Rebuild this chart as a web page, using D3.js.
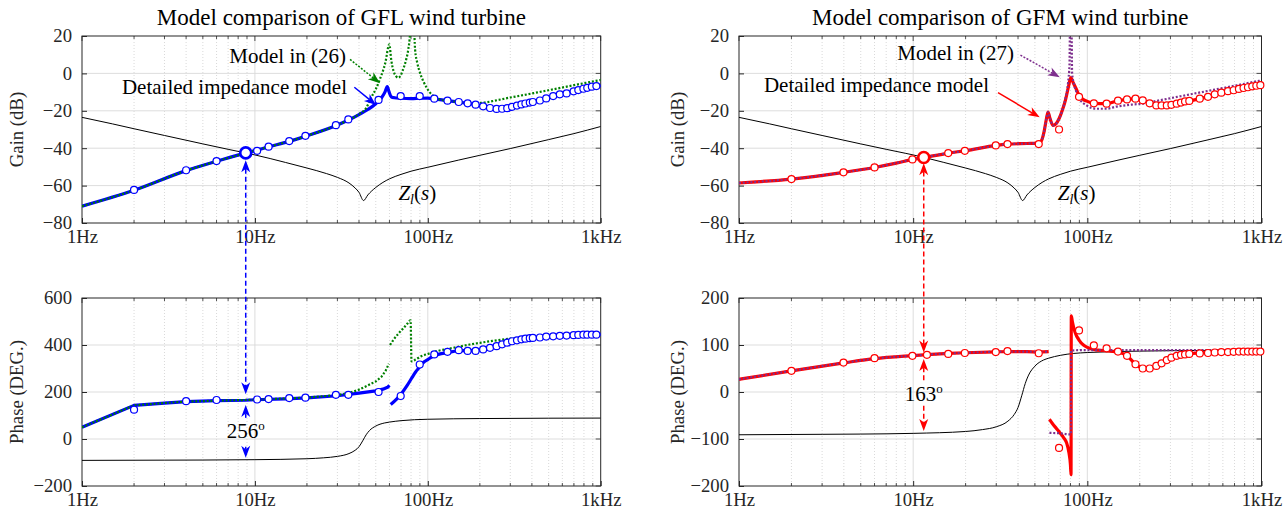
<!DOCTYPE html>
<html><head><meta charset="utf-8">
<script src="https://cdn.jsdelivr.net/npm/d3@7"></script>
<style>
body{margin:0;background:#fff}
svg{display:block}
svg text{font-family:"Liberation Serif","Times New Roman",Times,"DejaVu Serif",serif;fill:#262626}
</style></head><body>
<svg id="c" width="1287" height="510"></svg>
<script>
// ---------------- DATA ----------------
const freqTicks = [1, 10, 100, 1000];
const freqTickLabels = ["1Hz", "10Hz", "100Hz", "1kHz"];
const gainTicks = [20, 0, -20, -40, -60, -80];
const gflPhaseTicks = [600, 400, 200, 0, -200];
const gfmPhaseTicks = [200, 100, 0, -100, -200];
const titles = ["Model comparison of GFL wind turbine", "Model comparison of GFM wind turbine"];

// line impedance Z_l(s): [Hz, value]
const zlGain = [[1,-23.5],[1.5,-27],[2,-29.6],[3,-33.2],[5,-37.7],[7,-40.6],[9,-42.7],[10,-43.6],[15,-47.6],[20,-50.6],[26,-53.6],[30,-55.6],[35,-58.6],[38,-61.3],[40,-63.6],[42.5,-68],[45,-65],[50,-61],[55,-58.3],[60,-56.4],[70,-54],[80,-52.3],[100,-50.2],[150,-46.4],[200,-43.8],[300,-40.2],[500,-35.4],[700,-32.2],[1000,-28.4]];
const zlPhase = [[1,-91],[3,-90],[5,-89.5],[10,-88],[20,-84],[25,-80],[30,-74],[35,-62],[38,-48],[40,-33],[42,-8],[44,18],[46,36],[50,55],[56,68],[60,72],[70,78],[100,84],[200,87],[500,88.5],[1000,89]];

// GFL: detailed impedance model (blue), model in (26) (green), measured points (circles)
const gflDetGain = [[1,-71],[2,-62.5],[4,-52],[6,-47],[8.85,-42.5],[10,-41.3],[12,-39.3],[16,-36.2],[20,-33.4],[30,-27.6],[35,-24.8],[40,-22],[45,-19.3],[50,-16.2],[54,-13],[56.5,-10],[58.3,-7],[59.5,-9.5],[61.5,-12.5],[64,-13],[70,-13.3],[80,-13.5],[90,-13.3],[100,-13.2],[110,-13.6],[130,-14.6],[150,-15.3],[170,-16],[190,-16.7],[210,-17.6],[230,-18.4],[260,-18.9],[300,-18.2],[350,-16.6],[400,-15.4],[450,-14.4],[500,-13],[600,-11.2],[700,-9.6],[800,-8.2],[900,-7.2],[1000,-6.4]];
const gflModelGain = [[1,-71],[2,-62.5],[4,-52],[6,-47],[10,-41.3],[20,-33.4],[30,-27.6],[35,-24.8],[40,-21.8],[44,-18.5],[47.3,-12.5],[50,-8.5],[52.8,-3.2],[56.8,5.7],[59.9,15.6],[61.5,7],[63.5,1],[65.5,-1.5],[67.4,-2.3],[69.5,-1.3],[72,2.2],[75,7.5],[77,12.5],[79,22],[80.5,40],[82,40],[84.4,12.9],[87,5.5],[90.1,0.4],[94,-4],[98.5,-7.6],[103,-10.3],[107.6,-12],[117,-13.9],[130,-14.6],[150,-15.3],[180,-16],[200,-15.8],[300,-12.9],[500,-9],[700,-6.3],[1000,-3.5]];
const gflPtsGain = [[2,-62.3],[4,-51.8],[6,-46.9],[10.3,-41.4],[12,-39.2],[15.8,-36.2],[19.6,-33.4],[29.4,-27.7],[34.7,-24.6],[51.9,-14.2],[69.7,-12.1],[89.8,-12.1],[109,-13.5],[130,-14.6],[151,-15.3],[170,-16],[189,-16.7],[209,-17.6],[229,-18.5],[250,-19],[269,-18.9],[288,-18.6],[307,-17.9],[328,-17.2],[348,-16.6],[367,-16.1],[389,-15.6],[405,-15.3],[445,-14.5],[484,-13.4],[531,-12.1],[580,-11.2],[635,-10.7],[697,-9.6],[742,-8.9],[794,-8.2],[836,-7.7],[889,-7.1],[944,-6.8]];
const gflCross = [[8.85,-42.5]];
const gflDetPhaseA = [[1,50],[2,143],[3,153],[4,159],[6,163],[8.85,165],[10,167],[15,171],[20,175],[30,184],[40,195],[50,205],[55,212],[58.5,220],[60,228]];
const gflDetPhaseB = [[61,147],[66,170],[71,197],[76,228],[81,261],[85,285],[89,303],[95,328],[100,338],[107,352],[115,360],[130,368],[150,375],[170,376],[190,377],[210,381],[230,388],[250,395],[270,403],[290,410],[310,416],[350,424],[400,429],[450,432],[500,436],[600,439],[700,442],[800,444],[1000,445]];
const gflModelPhaseA = [[1,50],[2,143],[3,153],[4,159],[6,163],[10,167],[20,176],[30,187],[35,196],[40,210],[45,228],[50,245],[54,265],[57,290],[59.5,320]];
const gflModelPhaseB = [[60.5,400],[63,420],[67,445],[72,470],[76,490],[79.5,505],[80.5,330],[85,338],[91.5,352],[100,362],[113,374],[134,385],[175,402],[230,416],[300,427],[400,432],[600,440],[1000,445]];
const gflPtsPhase = [[2,125],[4,161],[6,166],[10.3,168],[12,170],[15.8,174],[19.6,176],[29.4,188],[34.7,188],[51.9,200],[69.7,183],[89.8,317],[109,360],[130,371],[151,378],[170,375],[189,375],[209,381],[229,388],[250,395],[269,403],[288,410],[307,416],[328,420],[348,424],[367,427],[389,429],[405,430],[445,432],[484,436],[531,437],[580,439],[635,440],[697,442],[742,443],[794,444],[836,444],[889,444],[944,444]];

// GFM: detailed impedance model (red), model in (27) (purple), measured points
const gfmDetGain = [[1,-58.6],[2,-56.5],[4,-52.9],[6,-50.3],[8,-48],[10,-46],[11.5,-45],[16,-42.6],[20,-41.3],[30,-38.5],[35,-37.8],[45,-37.5],[52,-37.3],[54.5,-36],[56.5,-31],[58.3,-24],[59.5,-20.7],[61,-24],[63.6,-27.8],[66,-27],[69,-24],[72,-19.5],[75,-14],[78,-7],[80.3,-2.3],[83,-5],[86.5,-8.5],[90,-12],[95,-14],[99,-14.8],[109,-16],[129,-16.2],[150,-14.6],[169,-13.9],[189,-13.5],[208,-14.4],[228,-16],[249,-17.1],[267,-17.1],[286,-17.1],[304,-16.8],[326,-16.2],[345,-15.6],[364,-15],[385,-14.7],[442,-13.5],[493,-12.5],[539,-11.2],[588,-10.3],[642,-9.5],[692,-9],[742,-8.3],[789,-7.8],[836,-7.4],[885,-6.9],[934,-6.6],[1000,-6.3]];
const gfmModelGain = [[1,-58.6],[2,-56.5],[4,-52.9],[6,-50.3],[10,-46],[16,-42.6],[20,-41.3],[30,-38.5],[35,-37.8],[45,-37.5],[52,-37.3],[54.5,-36],[56.5,-31],[58.3,-24],[59.5,-20.7],[61,-24],[63.6,-27.8],[66,-27],[69,-24],[72,-19.5],[75,-13],[77.5,-5],[79,5],[79.8,40],[80.8,40],[81.8,0],[84,-6],[87,-10.5],[90,-13.5],[99,-17.1],[113,-18.9],[129,-18.9],[146,-17.8],[180,-16.7],[214,-16],[230,-15.4],[400,-11],[700,-6.6],[1000,-3.7]];
const gfmPtsGain = [[2,-56.5],[3.98,-52.9],[6,-50.3],[9.9,-46],[15.9,-42.6],[19.8,-41.4],[29.8,-38.5],[34.8,-37.8],[52.6,-37.8],[68.8,-30],[89.6,-12.5],[109,-16],[129,-16.2],[150,-14.6],[169,-13.9],[189,-13.5],[208,-14.4],[228,-16],[249,-17.1],[267,-17.1],[286,-17.1],[304,-16.8],[326,-16.2],[345,-15.6],[364,-15],[385,-14.7],[442,-13.5],[493,-12.5],[539,-11.2],[588,-10.3],[642,-9.5],[692,-9],[742,-8.3],[789,-7.8],[836,-7.4],[885,-6.9],[934,-6.6],[985,-6.3]];
const gfmCross = [[11.5,-45]];
const gfmDetPhaseA = [[1,27],[2,45],[4,62],[6,71],[10,77.5],[12,79.5],[16,82],[20,83.5],[30,85.5],[35,86],[45,86],[52.7,85],[60,86]];
const gfmDetPhaseB = [[60.6,-58],[63,-67],[66.6,-78],[70,-88],[73,-97],[76,-108],[78.5,-130],[80,-155],[80.6,-176],[80.9,162],[82,150],[85,127],[89.8,110],[95,100],[100,95],[115,89],[135,87],[150,85],[169,77],[188,60],[207,51],[229,50],[250,55.5],[268,61],[289,68],[307,73],[328,77],[352,80],[400,82],[497,84],[700,86],[1000,86]];
const gfmModelPhaseA = [[1,27],[2,45],[4,62],[6,71],[10,77.5],[12,79.5],[16,82],[20,83.5],[30,85.5],[35,86],[45,86],[52.7,85],[60,86]];
const gfmModelPhaseB = [[60.6,-87],[70,-88],[78.5,-90],[80.5,-90],[80.7,88],[90,89],[1000,89]];
const gfmPtsPhase = [[2,45],[3.98,62.6],[6,72],[9.9,77],[12,79],[15.9,81],[19.8,83],[29.8,85],[34.8,87],[52.6,82.5],[68.8,-119],[89.6,131],[109,99],[129,93],[150,86],[169,77],[189,59],[208,50],[228,50],[249,55.5],[267,61],[286,68],[304,73],[326,77],[345,79],[364,80],[385,81],[442,82],[493,83],[539,84],[588,85],[642,85],[692,85.5],[742,86],[789,86],[836,86],[885,86],[934,86],[985,86]];

// ---------------- LAYOUT ----------------
const cols = {L:{x0:82, x1:600.7, title:titles[0]}, R:{x0:739, x1:1261.5, title:titles[1]}};
const rows = {T:{y0:36, y1:223}, B:{y0:298, y1:486}};
const SERIF = '"Liberation Serif","Times New Roman",Times,"DejaVu Serif",serif';
const FONT_TICK = 18.7, FONT_LAB = 18.7, FONT_ANN = 21, FONT_TITLE = 23;
const C = {blue:"#0000ff", green:"#008000", red:"#ff0000", purple:"#7e2f8e", black:"#000", axis:"#262626"};

const svg = d3.select("#c");
const defs = svg.append("defs");
const minus = d => d < 0 ? "\u2212" + (-d) : String(d);

function makePanel(id, col, row, yDom, yTicks, ylabel, labelX){
  const c = cols[col], r = rows[row];
  const x = d3.scaleLog().domain([1,1000]).range([c.x0, c.x1]);
  const y = d3.scaleLinear().domain(yDom).range([r.y1, r.y0]);
  const g = svg.append("g");
  defs.append("clipPath").attr("id","clip"+id).append("rect")
    .attr("x",c.x0).attr("y",r.y0).attr("width",c.x1-c.x0).attr("height",r.y1-r.y0);
  const minor = [];
  [1,10,100].forEach(d => { for(let k=2;k<=9;k++) minor.push(d*k); });
  g.append("g").selectAll("line").data(minor).join("line")
    .attr("x1",d=>x(d)).attr("x2",d=>x(d)).attr("y1",r.y0).attr("y2",r.y1)
    .attr("stroke","#cfcfcf").attr("stroke-width",0.8).attr("stroke-dasharray","1,2");
  g.append("g").selectAll("line").data(freqTicks.slice(1,-1)).join("line")
    .attr("x1",d=>x(d)).attr("x2",d=>x(d)).attr("y1",r.y0).attr("y2",r.y1)
    .attr("stroke","#d9d9d9").attr("stroke-width",0.9);
  g.append("g").selectAll("line").data(yTicks.filter(t=>t!==yDom[0]&&t!==yDom[1])).join("line")
    .attr("x1",c.x0).attr("x2",c.x1).attr("y1",d=>y(d)).attr("y2",d=>y(d))
    .attr("stroke","#d9d9d9").attr("stroke-width",0.9);
  const ax = g.append("g").attr("transform",`translate(0,${r.y1})`)
    .call(d3.axisBottom(x).tickValues(freqTicks).tickFormat((d,i)=>freqTickLabels[i]).tickSizeInner(-5).tickSizeOuter(0).tickPadding(7));
  const ay = g.append("g").attr("transform",`translate(${c.x0},0)`)
    .call(d3.axisLeft(y).tickValues(yTicks).tickFormat(minus).tickSizeInner(-5).tickSizeOuter(0).tickPadding(10));
  [ax,ay].forEach(a=>{
    a.attr("font-family",null).attr("font-size",null);
    a.select(".domain").remove();
    a.selectAll("line").attr("stroke",C.axis);
    a.selectAll("text").attr("font-size",FONT_TICK).attr("fill",C.axis).style("font-family",SERIF);
  });
  const tk = g.append("g").attr("stroke",C.axis).attr("stroke-width",0.8);
  yTicks.forEach(t=>tk.append("line").attr("x1",c.x1).attr("x2",c.x1-5).attr("y1",y(t)).attr("y2",y(t)));
  freqTicks.forEach(t=>tk.append("line").attr("x1",x(t)).attr("x2",x(t)).attr("y1",r.y0).attr("y2",r.y0+5));
  minor.forEach(t=>{
    tk.append("line").attr("x1",x(t)).attr("x2",x(t)).attr("y1",r.y1).attr("y2",r.y1-3);
    tk.append("line").attr("x1",x(t)).attr("x2",x(t)).attr("y1",r.y0).attr("y2",r.y0+3);
  });
  g.append("rect").attr("x",c.x0).attr("y",r.y0).attr("width",c.x1-c.x0).attr("height",r.y1-r.y0)
    .attr("fill","none").attr("stroke",C.axis).attr("stroke-width",1);
  g.append("text").attr("transform",`translate(${labelX},${(r.y0+r.y1)/2}) rotate(-90)`)
    .attr("text-anchor","middle").attr("font-size",FONT_LAB).style("font-family",SERIF).text(ylabel);
  const plot = svg.append("g").attr("clip-path",`url(#clip${id})`);
  const over = svg.append("g");
  return {x,y,plot,over,c,r};
}

function line(p, data, color, width, dash, straight){
  const gen = d3.line().x(d=>p.x(d[0])).y(d=>p.y(d[1])).curve(straight ? d3.curveLinear : d3.curveMonotoneX);
  p.plot.append("path").attr("d",gen(data)).attr("fill","none").attr("stroke",color)
    .attr("stroke-width",width).attr("stroke-linejoin","round")
    .attr("stroke-dasharray",dash||null);
}
function points(p, data, color, rad, sw){
  p.over.append("g").selectAll("circle").data(data).join("circle")
    .attr("cx",d=>p.x(d[0])).attr("cy",d=>p.y(d[1])).attr("r",rad)
    .attr("fill","#fff").attr("stroke",color).attr("stroke-width",sw);
}
const HL = 12, HW = 9;
function head(g, x, y, ang, color){
  g.append("path").attr("d",`M0,0L${-HL},${-HW/2}L${-HL*0.72},0L${-HL},${HW/2}Z`)
    .attr("transform",`translate(${x},${y}) rotate(${ang})`).attr("fill",color);
}
function arrow(g, x1, y1, x2, y2, color, dash, w){
  const a = Math.atan2(y2-y1,x2-x1), len = Math.hypot(x2-x1,y2-y1), s = (len-HL*0.7)/len;
  g.append("line").attr("x1",x1).attr("y1",y1).attr("x2",x1+(x2-x1)*s).attr("y2",y1+(y2-y1)*s)
    .attr("stroke",color).attr("stroke-width",w||1.5).attr("stroke-dasharray",dash||null);
  head(g, x2, y2, a*180/Math.PI, color);
}
function txt(g, x, y, anchor, size){
  return g.append("text").attr("x",x).attr("y",y).attr("text-anchor",anchor)
    .attr("font-size",size).style("font-family",SERIF).style("fill","#000");
}
function zlLabel(g, x, y){
  const t = txt(g, x, y, "start", FONT_ANN);
  t.append("tspan").attr("font-style","italic").text("Z");
  t.append("tspan").attr("font-style","italic").attr("font-size",14).attr("dy",4).text("l");
  t.append("tspan").attr("dy",-4).text("(");
  t.append("tspan").attr("font-style","italic").text("s");
  t.append("tspan").text(")");
}
function annText(g, x, y, s){ txt(g, x, y, "end", FONT_ANN).text(s); }
function degText(g, x, y, s){
  const t = txt(g, x, y, "middle", FONT_ANN);
  t.append("tspan").text(s);
  t.append("tspan").attr("font-size",13).attr("dy",-8).text("o");
}

// titles
txt(svg, (cols.L.x0+cols.L.x1)/2, 25, "middle", FONT_TITLE).text(cols.L.title);
txt(svg, (cols.R.x0+cols.R.x1)/2, 25, "middle", FONT_TITLE).text(cols.R.title);

// panels
const pLG = makePanel("LG","L","T",[-80,20],gainTicks,"Gain (dB)",23);
const pLP = makePanel("LP","L","B",[-200,600],gflPhaseTicks,"Phase (DEG.)",23);
const pRG = makePanel("RG","R","T",[-80,20],gainTicks,"Gain (dB)",684);
const pRP = makePanel("RP","R","B",[-200,200],gfmPhaseTicks,"Phase (DEG.)",684);

const DOT = "2,1.8";
line(pLG, zlGain, C.black, 1);
line(pLG, gflDetGain, C.blue, 3.2);
line(pLG, gflModelGain, C.green, 2.2, DOT);
points(pLG, gflPtsGain, C.blue, 3.5, 1.2);
points(pLG, gflCross, C.blue, 5.5, 2.6);

line(pLP, zlPhase, C.black, 1);
line(pLP, gflDetPhaseA, C.blue, 3.2, null, true);
line(pLP, gflDetPhaseB, C.blue, 3.2);
line(pLP, gflModelPhaseA, C.green, 2.2, DOT, true);
line(pLP, gflModelPhaseB, C.green, 2.2, DOT);
points(pLP, gflPtsPhase, C.blue, 3.5, 1.2);

line(pRG, zlGain, C.black, 1);
line(pRG, gfmDetGain, C.red, 3.2);
line(pRG, gfmModelGain, C.purple, 2.2, DOT);
points(pRG, gfmPtsGain, C.red, 3.5, 1.2);
points(pRG, gfmCross, C.red, 5.5, 2.6);

line(pRP, zlPhase, C.black, 1);
line(pRP, gfmDetPhaseA, C.red, 3.2);
line(pRP, gfmDetPhaseB, C.red, 3.2);
line(pRP, gfmModelPhaseA, C.purple, 2.2, DOT);
line(pRP, gfmModelPhaseB, C.purple, 2.2, DOT);
points(pRP, gfmPtsPhase, C.red, 3.5, 1.2);

// ---------------- ANNOTATIONS ----------------
const ann = svg.append("g");
annText(ann, 346, 63, "Model in (26)");
arrow(ann, pLG.x(35.5), pLG.y(7.5), pLG.x(52.9), pLG.y(-5.3), C.green, "2,1.5", 1.5);
annText(ann, 347, 94, "Detailed impedance model");
arrow(ann, pLG.x(37.6), pLG.y(-7.4), pLG.x(50.2), pLG.y(-16.9), C.blue, null, 1.5);
zlLabel(ann, pLG.x(67.6), 200);

annText(ann, 1014, 60, "Model in (27)");
arrow(ann, pRG.x(41.3), pRG.y(9.8), pRG.x(69.5), pRG.y(-2.1), C.purple, "2,1.5", 1.5);
annText(ann, 989, 92, "Detailed impedance model");
arrow(ann, pRG.x(30.7), pRG.y(-10.3), pRG.x(53.3), pRG.y(-23.5), C.red, null, 1.5);
zlLabel(ann, pRG.x(67.6), 200);

function link(pG, pP, f, gTip, pTip, upTip, dnTip, segA, segB, txtY, label, color){
  const xx = pG.x(f);
  const y1 = pG.y(gTip), y2 = pP.y(pTip);
  ann.append("line").attr("x1",xx).attr("x2",xx).attr("y1",y1+HL*0.7).attr("y2",y2-HL*0.7)
    .attr("stroke",color).attr("stroke-width",1.5).attr("stroke-dasharray","5,3");
  head(ann, xx, y1, -90, color);
  head(ann, xx, y2, 90, color);
  arrow(ann, xx, pP.y(segA), xx, pP.y(upTip), color, "5,3", 1.5);
  arrow(ann, xx, pP.y(segB), xx, pP.y(dnTip), color, "5,3", 1.5);
  degText(ann, xx, pP.y(txtY), label);
}
link(pLG, pLP, 8.85, -46.5, 190, 145, -80, 90, -33, 5, "256", C.blue);
link(pRG, pRP, 11.5, -48, 84, 70, -83, 25, -29, -20, "163", C.red);
</script>
</body></html>
